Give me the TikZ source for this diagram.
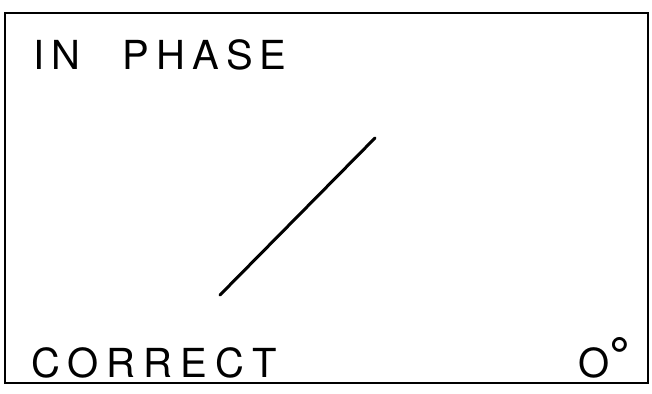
\documentclass[tikz,border=0pt]{standalone}
\usepackage{fontspec}
\setmainfont{TeX Gyre Heros}
\newfontfamily\widelabel[LetterSpace=18]{TeX Gyre Heros}
\newfontfamily\widerlabel[LetterSpace=20]{TeX Gyre Heros}
\usepackage{tikz}
\usetikzlibrary{positioning}
\tikzset{
	label text/.style={draw=none,fill=none,inner sep=0pt,font=\fontsize{40}{40}\selectfont},
	frame line/.style={line width=2.8pt},
	trace line/.style={line width=3pt,line cap=round}
}
\begin{document}
\begin{tikzpicture}[x=1pt,y=1pt]
		\useasboundingbox (0,0) rectangle (652,393);
		\draw[frame line] (5,10) rectangle (648,380);
		
		\node[label text,anchor=base west] (inphase) at (33.5,323) {\widelabel IN\hspace{23pt} PHASE};
		\node[label text,anchor=base west] (correct) at (31,16) {\widerlabel CORRECT};
		\node[label text,anchor=base east] (angle) at (630,16) {O\kern-1pt\raisebox{3pt}{\fontsize{52}{52}\selectfont\bfseries\textdegree}};
		
		\coordinate (start) at (220,98);
		\coordinate (end) at (375,255);
		\draw[trace line] (start)--(end);
	\end{tikzpicture}
\end{document}
